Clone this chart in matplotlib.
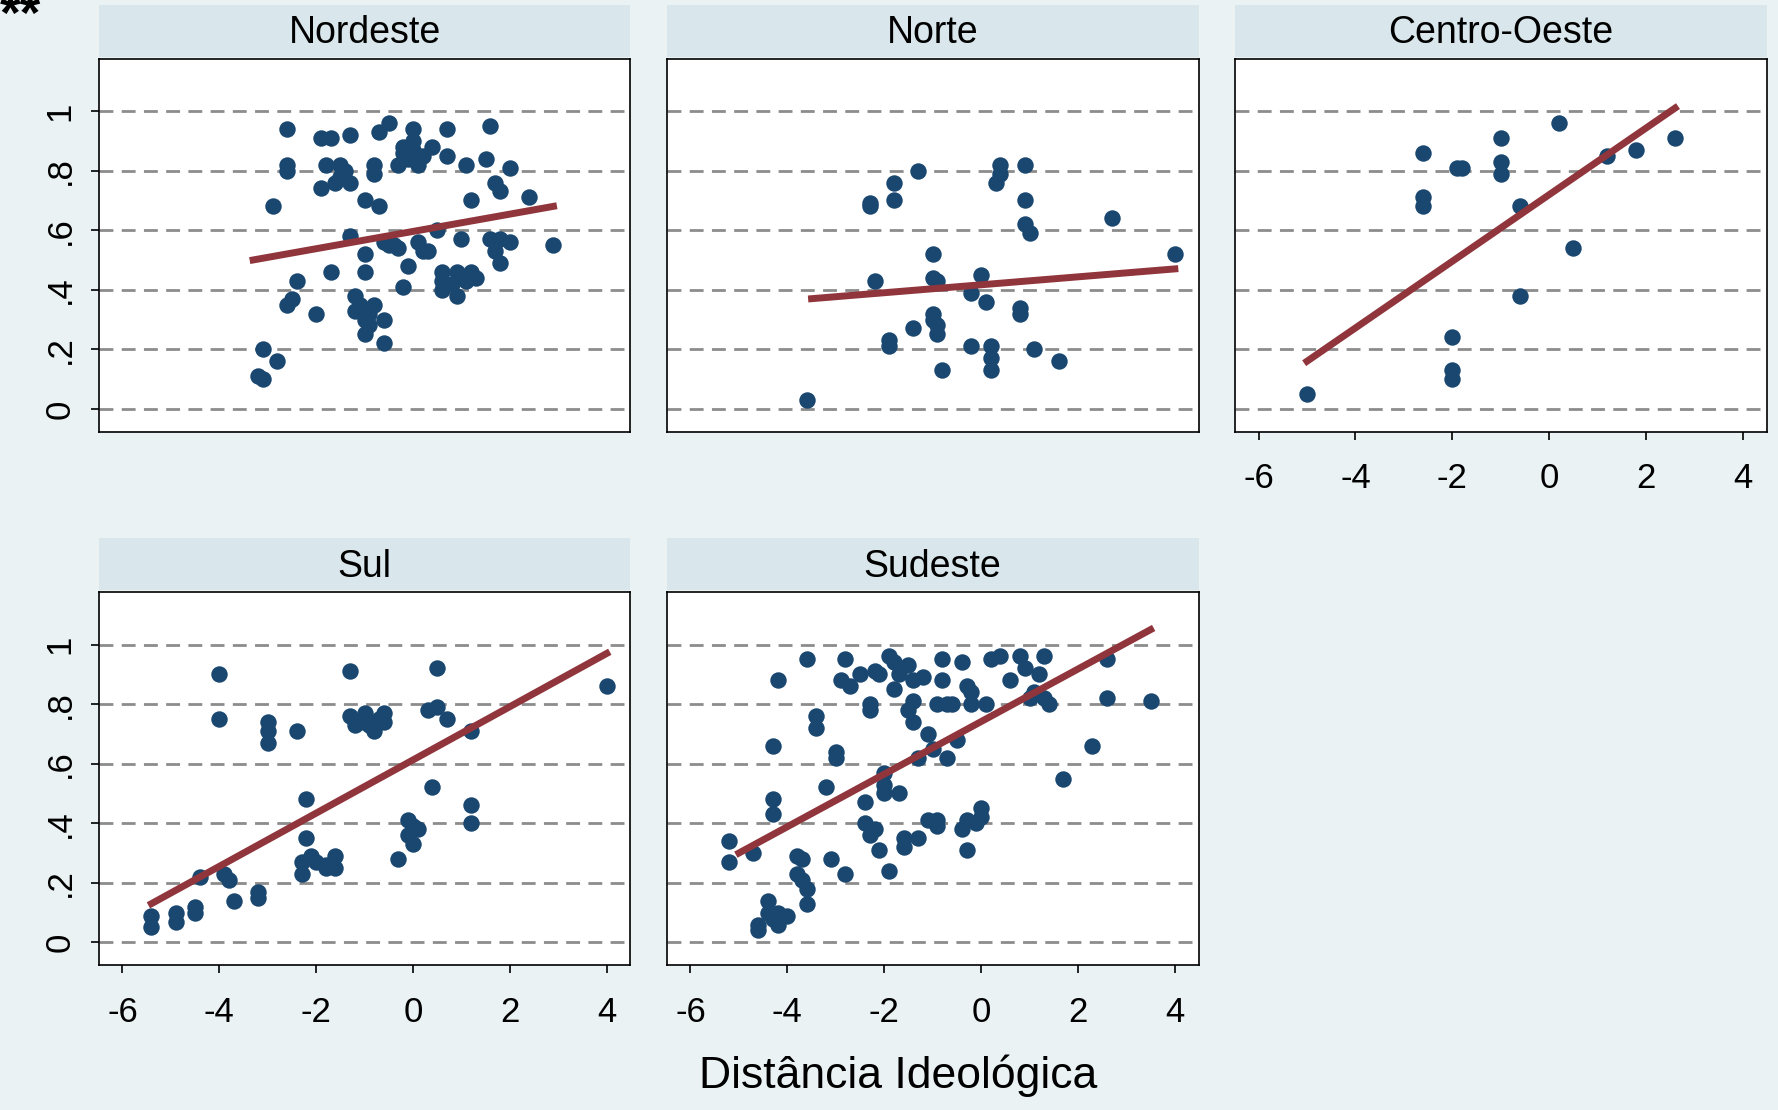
import matplotlib
matplotlib.use("Agg")
import matplotlib.pyplot as plt

plt.rcParams['font.family'] = ['Liberation Sans', 'DejaVu Sans']

regions = ["Nordeste", "Norte", "Centro-Oeste", "Sul", "Sudeste"]

nordeste = [(-3.2,0.11),(-3.1,0.10),(-3.1,0.20),(-2.8,0.16),(-2.6,0.35),(-2.5,0.37),(-2.4,0.43),(-2.0,0.32),(-2.9,0.68),(-2.6,0.80),(-2.6,0.82),(-2.6,0.94),(-1.9,0.74),(-1.9,0.91),(-1.8,0.82),(-1.7,0.91),(-1.7,0.46),(-1.6,0.76),(-1.5,0.78),(-1.5,0.82),(-1.4,0.80),(-1.3,0.58),(-1.3,0.76),(-1.3,0.92),(-1.2,0.38),(-1.2,0.33),(-1.1,0.35),(-1.0,0.25),(-1.0,0.30),(-1.0,0.52),(-1.0,0.46),(-1.0,0.70),(-0.9,0.28),(-0.9,0.32),(-0.8,0.35),(-0.8,0.79),(-0.8,0.82),(-0.7,0.68),(-0.7,0.93),(-0.6,0.22),(-0.6,0.30),(-0.6,0.56),(-0.5,0.96),(-0.5,0.55),(-0.4,0.55),(-0.3,0.54),(-0.3,0.82),(-0.2,0.86),(-0.2,0.41),(-0.2,0.88),(-0.1,0.84),(-0.1,0.48),(0,0.94),(0,0.90),(0,0.87),(0.1,0.82),(0.1,0.56),(0.2,0.85),(0.2,0.53),(0.3,0.53),(0.4,0.88),(0.5,0.60),(0.6,0.40),(0.6,0.43),(0.6,0.46),(0.7,0.94),(0.7,0.85),(0.8,0.42),(0.9,0.38),(0.9,0.46),(1.0,0.57),(1.1,0.43),(1.1,0.82),(1.2,0.46),(1.2,0.70),(1.3,0.44),(1.5,0.84),(1.6,0.95),(1.6,0.57),(1.7,0.76),(1.7,0.53),(1.8,0.49),(1.8,0.57),(1.8,0.73),(2.0,0.81),(2.0,0.56),(2.4,0.71),(2.9,0.55)]
norte = [(-3.6,0.03),(-2.3,0.68),(-2.3,0.69),(-2.2,0.43),(-1.9,0.23),(-1.9,0.21),(-1.8,0.70),(-1.8,0.76),(-1.4,0.27),(-1.3,0.80),(-1.0,0.32),(-1.0,0.30),(-1.0,0.44),(-1.0,0.52),(-0.9,0.25),(-0.9,0.28),(-0.9,0.43),(-0.8,0.13),(-0.2,0.21),(-0.2,0.39),(0,0.45),(0.1,0.36),(0.2,0.21),(0.2,0.17),(0.2,0.13),(0.3,0.76),(0.4,0.79),(0.4,0.82),(0.8,0.32),(0.8,0.34),(0.9,0.70),(0.9,0.82),(0.9,0.62),(1.0,0.59),(1.1,0.20),(1.6,0.16),(2.7,0.64),(4.0,0.52)]
centro = [(-5.0,0.05),(-2.6,0.86),(-2.6,0.71),(-2.6,0.68),(-2.0,0.24),(-2.0,0.13),(-2.0,0.10),(-1.9,0.81),(-1.8,0.81),(-1.0,0.91),(-1.0,0.83),(-1.0,0.79),(-0.6,0.68),(-0.6,0.38),(0.2,0.96),(0.5,0.54),(1.2,0.85),(1.8,0.87),(2.6,0.91)]
sul = [(-5.4,0.09),(-5.4,0.05),(-4.9,0.10),(-4.9,0.07),(-4.5,0.12),(-4.5,0.10),(-4.4,0.22),(-4.0,0.90),(-4.0,0.75),(-3.9,0.23),(-3.8,0.21),(-3.7,0.14),(-3.2,0.15),(-3.2,0.17),(-3.0,0.71),(-3.0,0.67),(-3.0,0.74),(-2.4,0.71),(-2.3,0.23),(-2.3,0.27),(-2.2,0.48),(-2.2,0.35),(-2.1,0.29),(-2.0,0.27),(-1.8,0.25),(-1.8,0.26),(-1.6,0.25),(-1.6,0.29),(-1.3,0.91),(-1.3,0.76),(-1.2,0.73),(-1.1,0.74),(-1.0,0.77),(-0.9,0.73),(-0.8,0.71),(-0.7,0.75),(-0.6,0.77),(-0.6,0.74),(-0.3,0.28),(-0.1,0.41),(-0.1,0.36),(0,0.39),(0,0.33),(0.1,0.38),(0.4,0.52),(0.3,0.78),(0.5,0.92),(0.5,0.79),(0.7,0.75),(1.2,0.71),(1.2,0.46),(1.2,0.40),(4.0,0.86)]
sudeste = [(-5.2,0.34),(-5.2,0.27),(-4.7,0.30),(-4.6,0.06),(-4.6,0.04),(-4.4,0.14),(-4.4,0.10),(-4.3,0.08),(-4.2,0.06),(-4.2,0.10),(-4.3,0.48),(-4.3,0.43),(-4.3,0.66),(-4.2,0.88),(-4.0,0.09),(-3.8,0.29),(-3.8,0.23),(-3.7,0.28),(-3.7,0.21),(-3.6,0.18),(-3.6,0.13),(-3.6,0.95),(-3.4,0.72),(-3.4,0.76),(-3.2,0.52),(-3.1,0.28),(-3.0,0.64),(-3.0,0.62),(-2.9,0.88),(-2.8,0.23),(-2.8,0.95),(-2.7,0.86),(-2.5,0.90),(-2.4,0.47),(-2.4,0.40),(-2.3,0.36),(-2.3,0.78),(-2.3,0.80),(-2.2,0.91),(-2.2,0.38),(-2.1,0.31),(-2.1,0.90),(-2.0,0.53),(-2.0,0.57),(-2.0,0.50),(-1.9,0.96),(-1.9,0.24),(-1.8,0.94),(-1.8,0.85),(-1.7,0.90),(-1.7,0.50),(-1.6,0.32),(-1.6,0.35),(-1.5,0.78),(-1.5,0.93),(-1.4,0.81),(-1.4,0.74),(-1.4,0.88),(-1.3,0.62),(-1.3,0.35),(-1.2,0.89),(-1.1,0.41),(-1.1,0.70),(-1.0,0.65),(-0.9,0.41),(-0.9,0.80),(-0.9,0.39),(-0.8,0.95),(-0.8,0.88),(-0.7,0.62),(-0.7,0.80),(-0.6,0.80),(-0.5,0.68),(-0.4,0.94),(-0.4,0.38),(-0.3,0.86),(-0.3,0.31),(-0.3,0.41),(-0.2,0.80),(-0.2,0.84),(-0.1,0.40),(0,0.45),(0,0.42),(0.1,0.80),(0.2,0.95),(0.4,0.96),(0.6,0.88),(0.8,0.96),(0.9,0.92),(1.0,0.82),(1.1,0.84),(1.2,0.90),(1.3,0.96),(1.3,0.82),(1.4,0.80),(1.7,0.55),(2.3,0.66),(2.6,0.82),(2.6,0.95),(3.5,0.81)]

fit_lines = {
    "Nordeste": ((-3.3, 2.9), (0.50, 0.68)),
    "Norte": ((-3.5, 4.0), (0.37, 0.47)),
    "Centro-Oeste": ((-5.0, 2.6), (0.16, 1.01)),
    "Sul": ((-5.4, 4.0), (0.13, 0.97)),
    "Sudeste": ((-5.0, 3.5), (0.30, 1.05)),
}
data = {"Nordeste": nordeste, "Norte": norte, "Centro-Oeste": centro, "Sul": sul, "Sudeste": sudeste}

xticks = [-6, -4, -2, 0, 2, 4]
yticks = [0, 0.2, 0.4, 0.6, 0.8, 1.0]
ylabels = ["0", ".2", ".4", ".6", ".8", "1"]

BG = "#EAF2F3"
STRIP = "#D9E6EB"
DOT = "#1A476F"
LINE = "#90353B"

fig = plt.figure(figsize=(17.78, 11.10), dpi=100, facecolor=BG)
W, H = 1568, 980
lefts = [87, 588, 1089]
positions = {"Nordeste": (0, 0), "Norte": (1, 0), "Centro-Oeste": (2, 0), "Sul": (0, 1), "Sudeste": (1, 1)}
tops = [52, 523]
aw, ah = 469, 329
strip_h = 46

for name in regions:
    c, r = positions[name]
    l = lefts[c] / W
    b = 1 - (tops[r] + ah) / H
    ax = fig.add_axes([l, b, aw / W, ah / H])
    ax.set_facecolor("white")
    pts = data[name]
    ax.scatter([p[0] for p in pts], [p[1] for p in pts], s=140, color=DOT, zorder=3, linewidths=0)
    fx, fy = fit_lines[name]
    ax.plot(fx, fy, color=LINE, lw=5, zorder=4)
    ax.set_xlim(-6.49, 4.49)
    ax.set_ylim(-0.076, 1.175)
    ax.set_yticks(yticks)
    for yv in yticks:
        ax.axhline(yv, color="#8C8C8C", lw=2, ls=(0, (5, 3)), zorder=1)
    ax.set_xticks(xticks)
    ax.tick_params(labelsize=25, length=6, width=1.2)
    ax.tick_params(axis="x", pad=16)
    ax.tick_params(axis="y", pad=10)
    if c == 0:
        ax.set_yticklabels(ylabels, rotation=90, va="center")
    else:
        ax.set_yticklabels([])
        ax.tick_params(axis="y", length=0)
    if name in ("Centro-Oeste", "Sul", "Sudeste"):
        ax.set_xticklabels([str(t) for t in xticks])
    else:
        ax.set_xticklabels([])
        ax.tick_params(axis="x", length=0)
    for s in ax.spines.values():
        s.set_color("black"); s.set_linewidth(1.2)
    sax = fig.add_axes([l, 1 - (tops[r] - 2) / H, aw / W, strip_h / H])
    sax.set_facecolor(STRIP)
    sax.set_xticks([]); sax.set_yticks([])
    for s in sax.spines.values():
        s.set_visible(False)
    sax.text(0.5, 0.45, name, ha="center", va="center", fontsize=27, transform=sax.transAxes)

fig.text(792 / W, 1 - 950 / H, "Distância Ideológica", ha="center", va="center", fontsize=32)
fig.text(0.0, 0.985, "**", ha="left", va="center", fontsize=38, fontweight="bold")

fig.savefig("out.png", dpi=100, facecolor=BG)
